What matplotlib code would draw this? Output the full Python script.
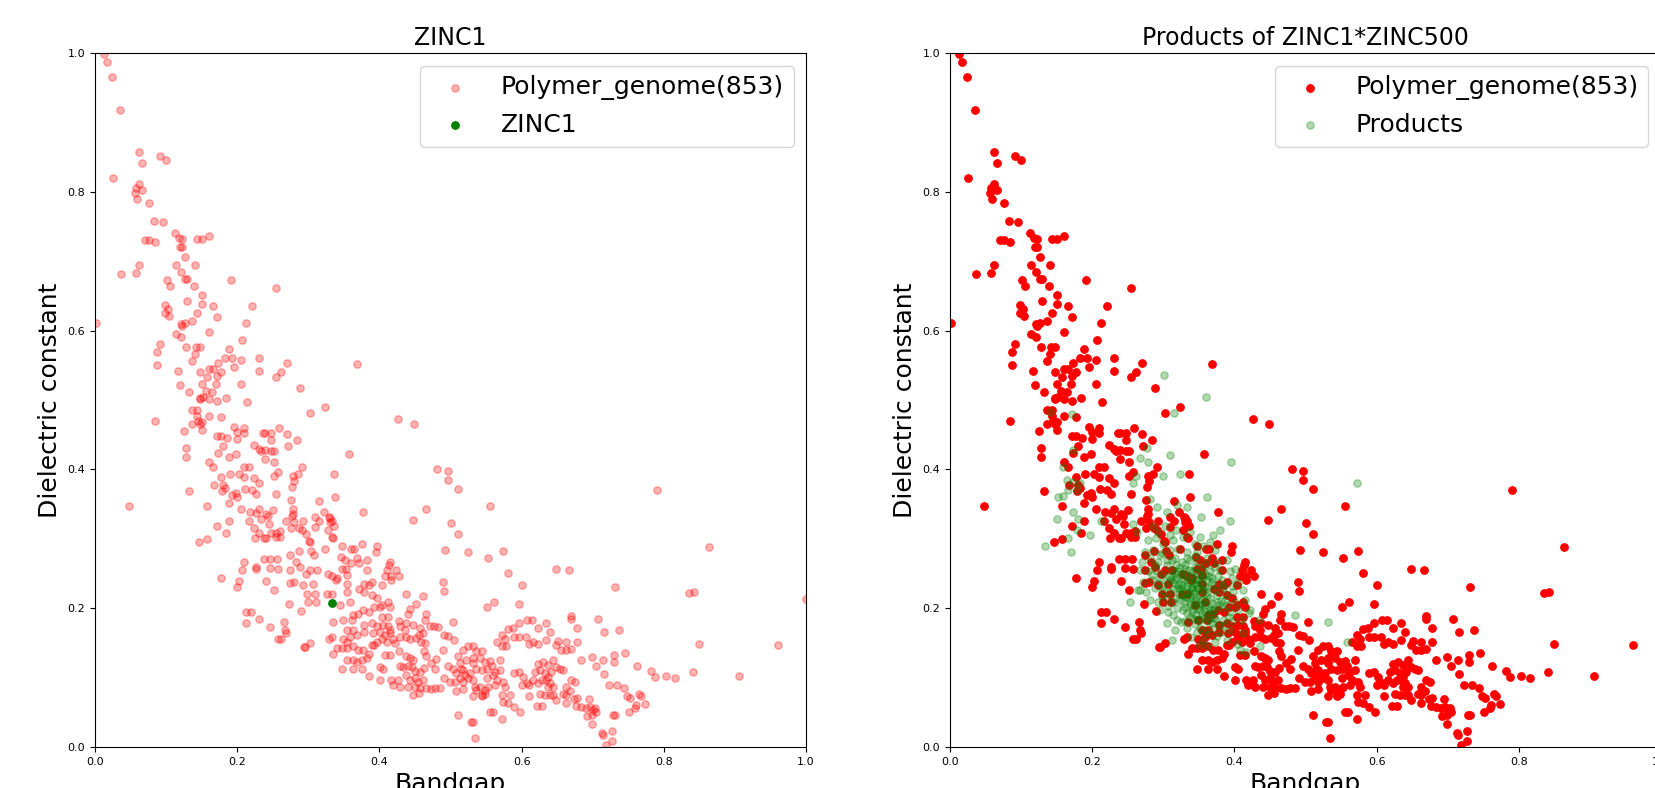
import numpy as np
import matplotlib.pyplot as plt

# Polymer_genome(853): (bandgap, dielectric constant), normalised
pg_upper = [
    (0.012, 0.999), (0.017, 0.987), (0.024, 0.965), (0.035, 0.918), (0.062, 0.857), (0.066, 0.842),
    (0.091, 0.852), (0.100, 0.846), (0.026, 0.820), (0.062, 0.811), (0.057, 0.806), (0.066, 0.802),
    (0.056, 0.798), (0.059, 0.789), (0.076, 0.784), (0.083, 0.758), (0.096, 0.756), (0.113, 0.741),
    (0.118, 0.733), (0.122, 0.732), (0.119, 0.721), (0.123, 0.721), (0.071, 0.731), (0.076, 0.731),
    (0.085, 0.727), (0.144, 0.732), (0.150, 0.732), (0.160, 0.736), (0.127, 0.706), (0.141, 0.695),
    (0.114, 0.694), (0.062, 0.694), (0.121, 0.685), (0.037, 0.681), (0.057, 0.683), (0.101, 0.673),
    (0.127, 0.675), (0.130, 0.675), (0.191, 0.673),
]

pg_mid = [
    (0.105, 0.664), (0.139, 0.664), (0.254, 0.662), (0.150, 0.651), (0.130, 0.642), (0.150, 0.638),
    (0.099, 0.637), (0.102, 0.631), (0.099, 0.626), (0.104, 0.621), (0.166, 0.635), (0.221, 0.635),
    (0.143, 0.626), (0.171, 0.619), (0.001, 0.611), (0.137, 0.614), (0.127, 0.611), (0.121, 0.610),
    (0.122, 0.606), (0.212, 0.611), (0.160, 0.598), (0.114, 0.595), (0.121, 0.591), (0.207, 0.586),
    (0.091, 0.580), (0.128, 0.576), (0.142, 0.576), (0.148, 0.576), (0.087, 0.569), (0.141, 0.567),
    (0.189, 0.574), (0.183, 0.561), (0.192, 0.561), (0.205, 0.558), (0.230, 0.560), (0.270, 0.554),
    (0.173, 0.554), (0.137, 0.556), (0.087, 0.550), (0.195, 0.547), (0.160, 0.545), (0.166, 0.544),
    (0.177, 0.540), (0.148, 0.540), (0.117, 0.542), (0.231, 0.542), (0.261, 0.540), (0.254, 0.533),
    (0.157, 0.533), (0.172, 0.534), (0.151, 0.523), (0.170, 0.523), (0.205, 0.523), (0.119, 0.521),
    (0.289, 0.518), (0.156, 0.513), (0.164, 0.512), (0.132, 0.512), (0.148, 0.503), (0.147, 0.501),
    (0.152, 0.505), (0.160, 0.502), (0.171, 0.499), (0.184, 0.503), (0.214, 0.497), (0.324, 0.490),
    (0.303, 0.481), (0.137, 0.485), (0.144, 0.486), (0.160, 0.477), (0.177, 0.475), (0.143, 0.477),
    (0.085, 0.470), (0.145, 0.470), (0.148, 0.466), (0.151, 0.469), (0.137, 0.466), (0.151, 0.457),
    (0.125, 0.455), (0.196, 0.461), (0.209, 0.459), (0.200, 0.454), (0.209, 0.452), (0.236, 0.452),
    (0.239, 0.452), (0.247, 0.452), (0.259, 0.459), (0.270, 0.451), (0.171, 0.448), (0.177, 0.448),
    (0.185, 0.445), (0.200, 0.444), (0.247, 0.442), (0.284, 0.442), (0.223, 0.435), (0.180, 0.434),
    (0.128, 0.431), (0.230, 0.429), (0.234, 0.426), (0.239, 0.428), (0.248, 0.426), (0.252, 0.426),
    (0.271, 0.433), (0.128, 0.418), (0.173, 0.424), (0.198, 0.422), (0.188, 0.418), (0.239, 0.415),
    (0.252, 0.410), (0.160, 0.410), (0.166, 0.404), (0.209, 0.403), (0.216, 0.404), (0.291, 0.404),
]

pg_left_low = [
    (0.177, 0.389), (0.190, 0.394), (0.203, 0.394), (0.210, 0.389), (0.223, 0.387), (0.252, 0.391),
    (0.258, 0.396), (0.278, 0.391), (0.286, 0.394), (0.280, 0.384), (0.231, 0.380), (0.167, 0.378),
    (0.180, 0.378), (0.183, 0.373), (0.179, 0.369), (0.132, 0.369), (0.211, 0.372), (0.221, 0.370),
    (0.277, 0.374), (0.192, 0.363), (0.198, 0.366), (0.200, 0.360), (0.226, 0.364), (0.254, 0.365),
    (0.188, 0.352), (0.048, 0.347), (0.157, 0.347), (0.275, 0.356), (0.315, 0.354), (0.205, 0.343),
    (0.230, 0.343), (0.279, 0.343), (0.279, 0.336), (0.250, 0.342), (0.218, 0.338), (0.226, 0.337),
    (0.241, 0.336), (0.244, 0.333), (0.322, 0.339), (0.277, 0.333), (0.309, 0.331), (0.329, 0.331),
    (0.233, 0.328), (0.216, 0.325), (0.189, 0.325), (0.268, 0.326), (0.280, 0.324), (0.292, 0.325),
    (0.315, 0.326), (0.330, 0.324), (0.245, 0.321), (0.171, 0.319), (0.223, 0.315), (0.275, 0.316),
    (0.287, 0.315), (0.291, 0.313), (0.310, 0.317), (0.184, 0.309), (0.230, 0.309), (0.248, 0.309),
    (0.254, 0.309), (0.260, 0.311), (0.328, 0.312), (0.297, 0.307), (0.225, 0.301), (0.237, 0.301),
    (0.240, 0.301), (0.254, 0.302), (0.260, 0.302), (0.157, 0.299), (0.146, 0.296), (0.301, 0.297),
    (0.303, 0.295), (0.324, 0.286), (0.287, 0.283), (0.304, 0.283), (0.308, 0.276), (0.274, 0.277),
    (0.237, 0.271), (0.246, 0.271), (0.256, 0.271), (0.282, 0.266), (0.210, 0.266), (0.226, 0.260),
    (0.227, 0.257), (0.207, 0.255), (0.246, 0.258), (0.257, 0.256), (0.274, 0.255), (0.288, 0.260),
    (0.303, 0.255), (0.312, 0.255), (0.297, 0.250), (0.328, 0.249), (0.177, 0.244), (0.202, 0.239),
    (0.241, 0.239), (0.274, 0.237), (0.280, 0.238), (0.200, 0.230), (0.252, 0.226), (0.273, 0.206),
    (0.213, 0.194), (0.219, 0.194), (0.231, 0.185), (0.212, 0.178), (0.246, 0.173), (0.266, 0.180),
    (0.267, 0.168), (0.269, 0.164), (0.258, 0.156), (0.261, 0.156),
]

pg_centre = [
    (0.368, 0.552), (0.426, 0.472), (0.449, 0.466), (0.357, 0.422), (0.336, 0.394), (0.481, 0.400),
    (0.496, 0.397), (0.497, 0.385), (0.510, 0.372), (0.338, 0.360), (0.555, 0.347), (0.465, 0.343),
    (0.377, 0.338), (0.447, 0.327), (0.501, 0.323), (0.510, 0.307), (0.331, 0.330), (0.333, 0.325),
    (0.336, 0.318), (0.333, 0.303), (0.335, 0.301), (0.348, 0.290), (0.360, 0.286), (0.364, 0.286),
    (0.375, 0.292), (0.397, 0.290), (0.395, 0.281), (0.492, 0.284), (0.524, 0.281), (0.574, 0.282),
    (0.553, 0.272), (0.346, 0.274), (0.352, 0.270), (0.368, 0.273), (0.383, 0.270), (0.360, 0.265),
    (0.372, 0.265), (0.415, 0.266), (0.414, 0.262), (0.347, 0.257), (0.353, 0.257), (0.383, 0.255),
    (0.411, 0.255), (0.424, 0.255), (0.354, 0.248), (0.333, 0.246), (0.340, 0.243), (0.408, 0.247),
    (0.417, 0.246), (0.428, 0.246), (0.581, 0.251), (0.648, 0.257), (0.666, 0.255), (0.791, 0.370),
    (0.864, 0.288),
]

pg_lower = [
    (0.292, 0.233), (0.307, 0.235), (0.298, 0.221), (0.309, 0.220), (0.300, 0.209), (0.311, 0.209),
    (0.326, 0.220), (0.334, 0.220), (0.339, 0.240), (0.354, 0.235), (0.354, 0.224), (0.358, 0.209),
    (0.372, 0.227), (0.379, 0.235), (0.386, 0.233), (0.389, 0.238), (0.403, 0.233), (0.417, 0.240),
    (0.379, 0.224), (0.389, 0.219), (0.396, 0.214), (0.403, 0.204), (0.412, 0.209), (0.415, 0.202),
    (0.438, 0.221), (0.440, 0.192), (0.443, 0.199), (0.452, 0.206), (0.461, 0.217), (0.490, 0.238),
    (0.491, 0.225), (0.552, 0.202), (0.561, 0.209), (0.601, 0.233), (0.596, 0.206), (0.290, 0.196),
    (0.344, 0.204), (0.393, 0.202), (0.401, 0.202), (0.377, 0.197), (0.386, 0.194), (0.370, 0.192),
    (0.363, 0.190), (0.361, 0.183), (0.349, 0.183), (0.335, 0.180), (0.404, 0.188), (0.412, 0.188),
    (0.379, 0.176), (0.389, 0.178), (0.396, 0.174), (0.405, 0.176), (0.412, 0.174), (0.415, 0.169),
    (0.427, 0.181), (0.429, 0.174), (0.436, 0.169), (0.438, 0.179), (0.447, 0.176), (0.457, 0.171),
    (0.462, 0.164), (0.466, 0.192), (0.464, 0.183), (0.471, 0.174), (0.477, 0.174), (0.483, 0.173),
    (0.491, 0.162), (0.497, 0.160), (0.504, 0.180), (0.505, 0.154), (0.355, 0.169), (0.363, 0.169),
    (0.358, 0.159), (0.368, 0.162), (0.349, 0.155), (0.354, 0.152), (0.329, 0.155), (0.333, 0.159),
    (0.379, 0.166), (0.391, 0.164), (0.401, 0.166), (0.408, 0.162), (0.415, 0.164), (0.396, 0.152),
    (0.403, 0.155), (0.410, 0.152), (0.419, 0.155), (0.422, 0.150), (0.429, 0.159), (0.438, 0.159),
    (0.443, 0.155), (0.452, 0.157), (0.455, 0.162), (0.459, 0.152), (0.464, 0.150), (0.389, 0.147),
    (0.393, 0.147), (0.294, 0.144), (0.296, 0.144), (0.302, 0.150), (0.340, 0.143), (0.348, 0.142),
    (0.354, 0.142), (0.363, 0.145), (0.370, 0.140), (0.377, 0.140), (0.335, 0.134), (0.408, 0.133),
    (0.415, 0.133), (0.428, 0.139), (0.437, 0.131), (0.443, 0.128), (0.447, 0.126), (0.463, 0.139),
    (0.466, 0.131), (0.480, 0.127), (0.490, 0.140), (0.518, 0.140), (0.525, 0.145), (0.532, 0.145),
    (0.536, 0.138), (0.544, 0.138), (0.572, 0.162), (0.576, 0.155), (0.581, 0.170), (0.588, 0.171),
    (0.597, 0.178), (0.607, 0.183), (0.614, 0.183), (0.623, 0.171), (0.635, 0.179), (0.640, 0.166),
    (0.651, 0.153), (0.663, 0.152), (0.565, 0.152), (0.572, 0.145), (0.578, 0.145), (0.590, 0.159),
    (0.597, 0.159), (0.606, 0.159), (0.611, 0.149), (0.616, 0.152), (0.623, 0.149), (0.635, 0.154),
    (0.522, 0.125), (0.532, 0.128), (0.541, 0.128), (0.548, 0.123), (0.555, 0.124), (0.569, 0.125),
    (0.511, 0.131), (0.513, 0.121), (0.515, 0.113), (0.508, 0.106), (0.354, 0.125), (0.363, 0.125),
    (0.368, 0.123), (0.375, 0.125), (0.382, 0.128), (0.386, 0.134), (0.347, 0.113), (0.363, 0.112),
    (0.375, 0.113), (0.401, 0.115), (0.405, 0.113), (0.429, 0.116), (0.433, 0.115), (0.440, 0.117),
    (0.446, 0.115), (0.450, 0.110), (0.457, 0.108), (0.463, 0.114), (0.472, 0.121), (0.478, 0.113),
    (0.386, 0.103), (0.401, 0.097), (0.417, 0.097), (0.419, 0.089), (0.426, 0.097), (0.438, 0.104),
    (0.443, 0.097), (0.450, 0.099), (0.454, 0.094), (0.461, 0.097), (0.429, 0.087), (0.440, 0.087),
    (0.450, 0.087), (0.457, 0.085), (0.466, 0.085), (0.473, 0.083), (0.478, 0.085), (0.485, 0.085),
    (0.447, 0.075), (0.456, 0.078), (0.491, 0.100), (0.497, 0.116), (0.504, 0.113), (0.518, 0.111),
    (0.520, 0.104), (0.525, 0.099), (0.527, 0.106), (0.499, 0.094), (0.506, 0.094), (0.513, 0.099),
    (0.518, 0.094), (0.532, 0.121), (0.536, 0.113), (0.544, 0.111), (0.551, 0.113), (0.558, 0.116),
    (0.562, 0.108), (0.569, 0.111), (0.532, 0.097), (0.534, 0.087), (0.536, 0.082), (0.541, 0.087),
    (0.544, 0.075), (0.548, 0.082), (0.553, 0.087), (0.562, 0.089), (0.565, 0.097), (0.574, 0.094),
    (0.576, 0.087), (0.560, 0.104), (0.551, 0.099), (0.508, 0.080), (0.517, 0.083), (0.532, 0.073),
    (0.544, 0.073), (0.548, 0.077), (0.572, 0.075), (0.584, 0.075), (0.574, 0.065), (0.581, 0.064),
    (0.590, 0.057), (0.598, 0.050), (0.555, 0.050), (0.560, 0.051), (0.572, 0.041), (0.511, 0.046),
    (0.529, 0.036), (0.532, 0.036), (0.535, 0.013), (0.590, 0.106), (0.597, 0.108), (0.602, 0.101),
    (0.607, 0.092), (0.600, 0.089), (0.611, 0.089), (0.616, 0.097), (0.623, 0.092), (0.628, 0.097),
    (0.619, 0.108), (0.626, 0.111), (0.633, 0.106), (0.637, 0.101), (0.642, 0.108), (0.623, 0.120),
    (0.630, 0.123), (0.637, 0.118), (0.644, 0.125), (0.649, 0.115), (0.654, 0.113), (0.658, 0.111),
    (0.635, 0.097), (0.640, 0.092), (0.644, 0.087), (0.637, 0.087), (0.626, 0.077), (0.633, 0.075),
    (0.640, 0.075), (0.644, 0.075), (0.611, 0.073), (0.621, 0.059), (0.629, 0.059), (0.649, 0.068),
    (0.658, 0.077), (0.663, 0.075), (0.663, 0.087), (0.663, 0.063), (0.648, 0.147), (0.655, 0.140),
    (0.663, 0.140),
]

pg_right = [
    (0.732, 0.231), (0.835, 0.222), (0.843, 0.224), (1.000, 0.213), (0.670, 0.189), (0.670, 0.185),
    (0.707, 0.185), (0.678, 0.172), (0.737, 0.169), (0.716, 0.165), (0.678, 0.152), (0.850, 0.149),
    (0.961, 0.147), (0.669, 0.141), (0.746, 0.136), (0.730, 0.132), (0.699, 0.130), (0.683, 0.125),
    (0.715, 0.125), (0.730, 0.123), (0.705, 0.117), (0.762, 0.117), (0.782, 0.109), (0.788, 0.101),
    (0.803, 0.103), (0.816, 0.099), (0.841, 0.108), (0.906, 0.103), (0.716, 0.105), (0.670, 0.097),
    (0.675, 0.094), (0.723, 0.090), (0.734, 0.090), (0.744, 0.085), (0.668, 0.080), (0.748, 0.074),
    (0.753, 0.071), (0.765, 0.077), (0.768, 0.073), (0.674, 0.069), (0.678, 0.071), (0.695, 0.069),
    (0.773, 0.062), (0.761, 0.060), (0.760, 0.056), (0.751, 0.051), (0.677, 0.059), (0.684, 0.057),
    (0.690, 0.056), (0.696, 0.057), (0.701, 0.053), (0.705, 0.051), (0.703, 0.056), (0.692, 0.044),
    (0.699, 0.046), (0.729, 0.046), (0.732, 0.046), (0.699, 0.033), (0.713, 0.020), (0.714, 0.017),
    (0.727, 0.023), (0.727, 0.009), (0.719, 0.003),
]

zinc1 = (0.334, 0.207)

# Products of ZINC1*ZINC500
prod_outer = [
    (0.301, 0.536), (0.360, 0.505), (0.315, 0.481), (0.171, 0.480), (0.141, 0.483), (0.277, 0.431),
    (0.309, 0.421), (0.267, 0.416), (0.279, 0.411), (0.395, 0.410), (0.173, 0.428), (0.159, 0.404),
    (0.323, 0.394), (0.300, 0.390), (0.262, 0.390), (0.258, 0.380), (0.573, 0.380), (0.164, 0.385),
    (0.173, 0.382), (0.183, 0.380), (0.178, 0.370), (0.166, 0.370), (0.152, 0.360), (0.159, 0.362),
    (0.361, 0.360), (0.281, 0.358), (0.291, 0.346), (0.305, 0.339), (0.333, 0.346), (0.319, 0.349),
    (0.173, 0.339), (0.180, 0.329), (0.150, 0.328), (0.213, 0.325), (0.353, 0.332), (0.394, 0.325),
    (0.258, 0.321), (0.263, 0.310), (0.178, 0.313), (0.197, 0.306), (0.166, 0.301), (0.380, 0.313),
    (0.370, 0.305), (0.134, 0.289), (0.170, 0.281), (0.485, 0.190), (0.532, 0.180), (0.558, 0.152),
    (0.253, 0.209), (0.267, 0.226), (0.312, 0.154), (0.305, 0.178), (0.316, 0.169), (0.408, 0.140),
    (0.417, 0.137), (0.436, 0.145), (0.434, 0.183), (0.420, 0.193),
]

prod_cluster = [
    (0.279, 0.298), (0.290, 0.301), (0.300, 0.293), (0.314, 0.298), (0.328, 0.303), (0.344, 0.293),
    (0.366, 0.296), (0.274, 0.281), (0.286, 0.284), (0.298, 0.279), (0.309, 0.284), (0.321, 0.286),
    (0.333, 0.281), (0.347, 0.281), (0.356, 0.289), (0.373, 0.284), (0.270, 0.267), (0.281, 0.272),
    (0.293, 0.267), (0.305, 0.269), (0.316, 0.272), (0.326, 0.267), (0.337, 0.269), (0.349, 0.267),
    (0.361, 0.272), (0.375, 0.267), (0.389, 0.269), (0.267, 0.255), (0.279, 0.253), (0.290, 0.255),
    (0.300, 0.250), (0.312, 0.255), (0.321, 0.253), (0.330, 0.257), (0.342, 0.253), (0.354, 0.255),
    (0.366, 0.253), (0.380, 0.255), (0.394, 0.253), (0.401, 0.257), (0.272, 0.238), (0.284, 0.241),
    (0.295, 0.243), (0.305, 0.238), (0.316, 0.241), (0.326, 0.243), (0.335, 0.238), (0.344, 0.241),
    (0.356, 0.243), (0.368, 0.238), (0.382, 0.241), (0.396, 0.243), (0.405, 0.236), (0.265, 0.226),
    (0.276, 0.224), (0.288, 0.229), (0.300, 0.226), (0.309, 0.224), (0.321, 0.229), (0.330, 0.224),
    (0.340, 0.226), (0.349, 0.229), (0.361, 0.224), (0.373, 0.226), (0.384, 0.229), (0.398, 0.224),
    (0.412, 0.226), (0.281, 0.212), (0.293, 0.209), (0.305, 0.214), (0.314, 0.209), (0.323, 0.212),
    (0.333, 0.214), (0.344, 0.209), (0.354, 0.212), (0.366, 0.214), (0.375, 0.209), (0.387, 0.212),
    (0.401, 0.209), (0.415, 0.212), (0.295, 0.197), (0.307, 0.195), (0.319, 0.200), (0.328, 0.197),
    (0.340, 0.195), (0.349, 0.200), (0.358, 0.195), (0.370, 0.197), (0.382, 0.200), (0.394, 0.195),
    (0.405, 0.197), (0.422, 0.197), (0.319, 0.183), (0.330, 0.181), (0.342, 0.185), (0.351, 0.183),
    (0.361, 0.181), (0.373, 0.185), (0.384, 0.183), (0.396, 0.181), (0.410, 0.183), (0.333, 0.171),
    (0.347, 0.166), (0.358, 0.169), (0.370, 0.171), (0.382, 0.166), (0.394, 0.169), (0.412, 0.164),
    (0.356, 0.154), (0.373, 0.152), (0.389, 0.154), (0.403, 0.149),
    (0.318, 0.262), (0.331, 0.262), (0.345, 0.260), (0.358, 0.262), (0.372, 0.259), (0.312, 0.247),
    (0.325, 0.249), (0.339, 0.247), (0.352, 0.248), (0.364, 0.246), (0.377, 0.247), (0.320, 0.233),
    (0.334, 0.232), (0.347, 0.234), (0.359, 0.232), (0.371, 0.233), (0.384, 0.234), (0.326, 0.219),
    (0.338, 0.218), (0.350, 0.220), (0.362, 0.218), (0.376, 0.219), (0.338, 0.204), (0.352, 0.205),
    (0.364, 0.203), (0.378, 0.205), (0.390, 0.204), (0.331, 0.250), (0.343, 0.237), (0.356, 0.226),
]

# densest part of the product cloud (dark green core)
prod_core = [
    (0.305, 0.262), (0.312, 0.270), (0.322, 0.258), (0.336, 0.255), (0.348, 0.251), (0.310, 0.240),
    (0.318, 0.244), (0.329, 0.240), (0.341, 0.229), (0.353, 0.238), (0.362, 0.240), (0.300, 0.232),
    (0.313, 0.228), (0.324, 0.227), (0.336, 0.222), (0.346, 0.216), (0.357, 0.213), (0.368, 0.207),
    (0.318, 0.214), (0.329, 0.209), (0.340, 0.206), (0.352, 0.198), (0.363, 0.192), (0.372, 0.188),
    (0.333, 0.193), (0.346, 0.190), (0.357, 0.186), (0.368, 0.178), (0.378, 0.176), (0.344, 0.177),
    (0.352, 0.172), (0.363, 0.163), (0.376, 0.160), (0.386, 0.176), (0.392, 0.188), (0.381, 0.211),
    (0.388, 0.220), (0.396, 0.232), (0.369, 0.243), (0.358, 0.249), (0.333, 0.272), (0.345, 0.275),
    (0.296, 0.276), (0.288, 0.262), (0.284, 0.248), (0.292, 0.236), (0.298, 0.218), (0.306, 0.203),
    (0.313, 0.190), (0.325, 0.180), (0.339, 0.158), (0.350, 0.147), (0.362, 0.145), (0.292, 0.310),
    (0.303, 0.318), (0.318, 0.312), (0.338, 0.310), (0.352, 0.302), (0.310, 0.305), (0.285, 0.318),
    (0.315, 0.236), (0.327, 0.234), (0.339, 0.230), (0.350, 0.227), (0.322, 0.221), (0.334, 0.216),
    (0.345, 0.212), (0.355, 0.206), (0.331, 0.202), (0.342, 0.199), (0.354, 0.193), (0.365, 0.198),
    (0.343, 0.222), (0.337, 0.244), (0.349, 0.241), (0.361, 0.229), (0.326, 0.229), (0.317, 0.251),
    (0.308, 0.246), (0.359, 0.204), (0.372, 0.198), (0.366, 0.185), (0.349, 0.185), (0.338, 0.188),
]

polymer = np.array(pg_upper + pg_mid + pg_left_low + pg_centre + pg_lower + pg_right)
products = np.array(prod_outer + prod_cluster + prod_core)

ticks = [0.0, 0.2, 0.4, 0.6, 0.8, 1.0]
msize = 28

fig = plt.figure(figsize=(16.55, 7.88), dpi=100)
ax1 = fig.add_axes([95 / 1655, 41 / 788, 711 / 1655, 694 / 788])
ax2 = fig.add_axes([950 / 1655, 41 / 788, 711 / 1655, 694 / 788])

# left: genome set faded, ZINC1 on top
ax1.scatter(polymer[:, 0], polymer[:, 1], s=msize, c='r', alpha=0.3, label='Polymer_genome(853)')
ax1.scatter([zinc1[0]], [zinc1[1]], s=msize, c='g', label='ZINC1')
ax1.set_title('ZINC1', fontsize=17)

# right: genome set solid, products faded on top
ax2.scatter(polymer[:, 0], polymer[:, 1], s=msize, c='r', label='Polymer_genome(853)')
ax2.scatter(products[:, 0], products[:, 1], s=msize, c='g', alpha=0.3, label='Products')
ax2.set_title('Products of ZINC1*ZINC500', fontsize=17)

for ax in (ax1, ax2):
    ax.set_xlim(0, 1)
    ax.set_ylim(0, 1)
    ax.set_xticks(ticks)
    ax.set_yticks(ticks)
    ax.tick_params(labelsize=8)
    ax.set_xlabel('Bandgap', fontsize=18)
    ax.set_ylabel('Dielectric constant', fontsize=18)
    ax.legend(loc='upper right', fontsize=18)

fig.savefig('out.png', dpi=100)
